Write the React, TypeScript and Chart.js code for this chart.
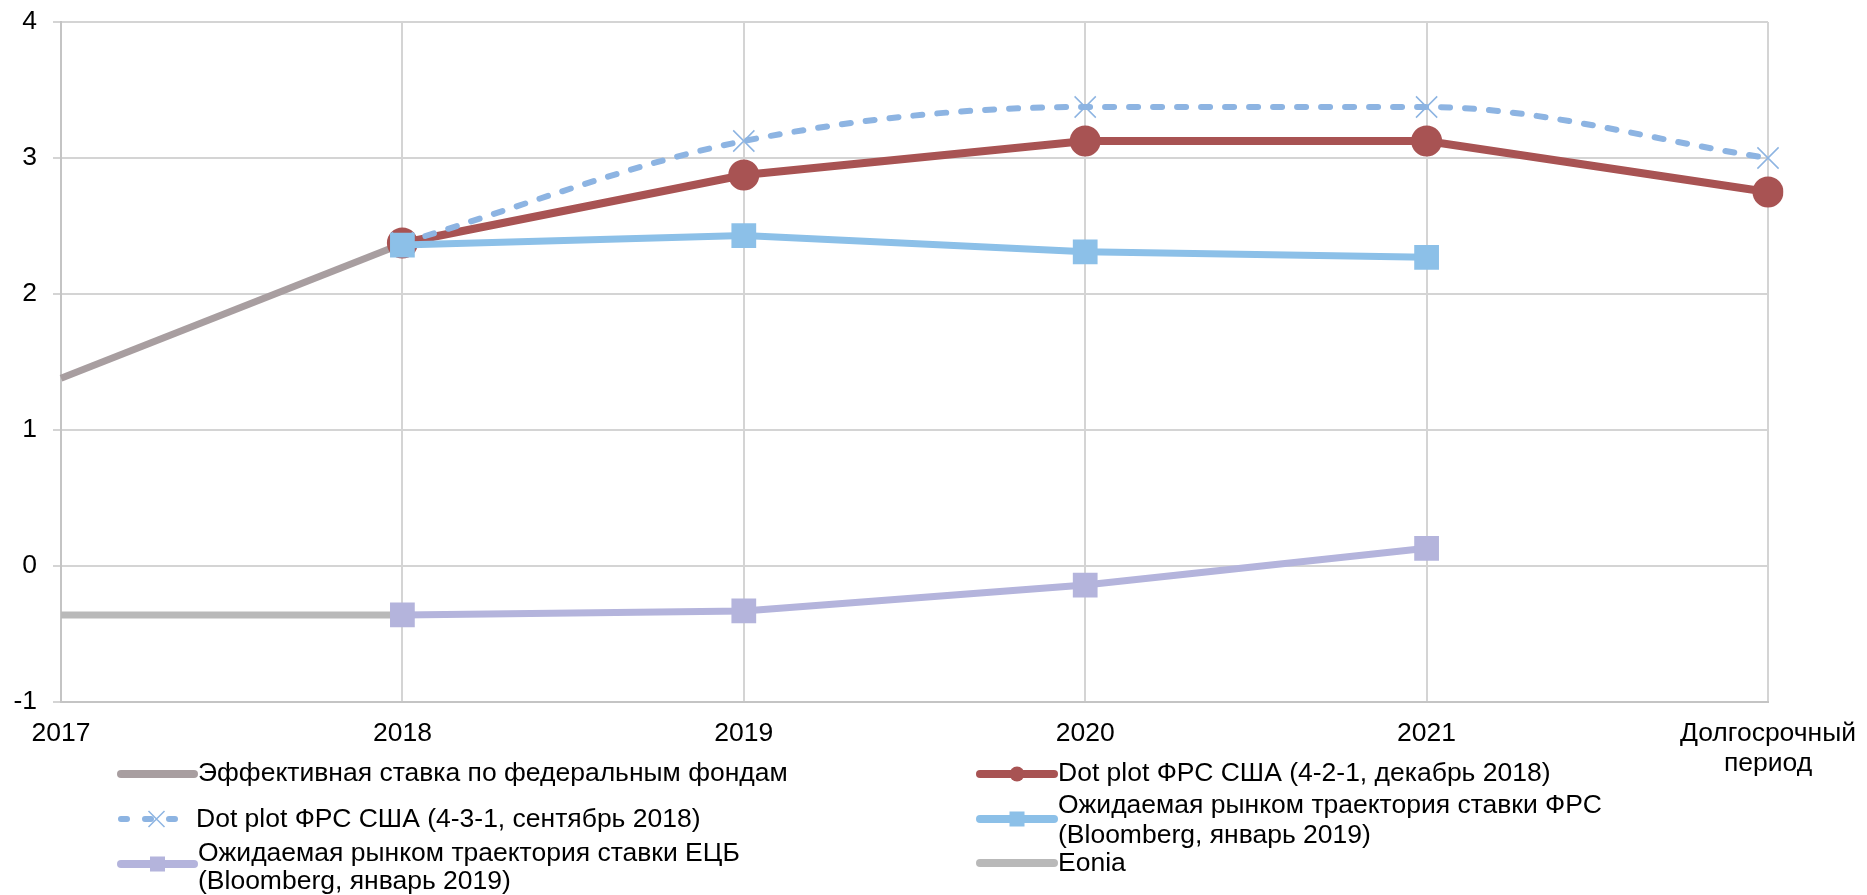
import React, { useEffect, useRef } from "react";
import { Chart, registerables } from "chart.js";

Chart.register(...registerables);

const categories: (string | string[])[] = ["2017", "2018", "2019", "2020", "2021", ["Долгосрочный", "период"]];

const effectiveRate = [1.38, 2.37, null, null, null, null];
const dotPlotDec = [null, 2.375, 2.875, 3.125, 3.125, 2.75];
const dotPlotSep = [null, 2.375, 3.125, 3.375, 3.375, 3.0];
const marketFed = [null, 2.36, 2.43, 2.31, 2.27, null];
const marketEcb = [null, -0.36, -0.33, -0.14, 0.13, null];
const eonia = [-0.36, -0.36, null, null, null, null];

const yTicks = [-1, 0, 1, 2, 3, 4];

const labelEffective = ["Эффективная ставка по федеральным фондам"];
const labelDec = ["Dot plot ФРС США (4-2-1, декабрь 2018)"];
const labelSep = ["Dot plot ФРС США (4-3-1, сентябрь 2018)"];
const labelFed = ["Ожидаемая рынком траектория ставки ФРС", "(Bloomberg, январь 2019)"];
const labelEcb = ["Ожидаемая рынком траектория ставки ЕЦБ", "(Bloomberg, январь 2019)"];
const labelEonia = ["Eonia"];

const FONT = '"Liberation Sans", Arial, sans-serif';
const FS = 26.5;

const C_RED = "#a85353";
const C_DASH = "#8db4e2";
const C_FED = "#8cc0e8";
const C_ECB = "#b4b4dc";
const C_EFF = "#a89ea0";
const C_EONIA = "#b9b9b9";

// legend layout: [datasetIndex, sampleX1, sampleX2, sampleY, textX, firstLineY, lineGap]
const legendLayout: number[][] = [
  [4, 121, 194, 774, 198, 774, 0],
  [2, 121, 192, 819, 196, 820, 0],
  [1, 121, 194, 864, 198, 854, 28],
  [3, 980, 1054, 774, 1058, 774, 0],
  [0, 980, 1054, 819, 1058, 806, 30],
  [5, 980, 1054, 863, 1058, 864, 0],
];

const legendPlugin = {
  id: "customLegend",
  afterDraw(chart: any) {
    const ctx: CanvasRenderingContext2D = chart.ctx;
    ctx.save();
    for (const [di, x1, x2, sy, tx, ty, gap] of legendLayout) {
      const ds: any = chart.data.datasets[di];
      ctx.save();
      ctx.strokeStyle = ds.borderColor;
      ctx.lineCap = "round";
      ctx.lineWidth = ds.legendWidth;
      ctx.setLineDash(ds.legendDash || []);
      ctx.beginPath();
      ctx.moveTo(x1, sy);
      ctx.lineTo(x2, sy);
      ctx.stroke();
      ctx.setLineDash([]);
      const cx = (x1 + x2) / 2;
      if (ds.pointStyle === "circle") {
        ctx.fillStyle = ds.borderColor;
        ctx.beginPath();
        ctx.arc(cx, sy, 7.5, 0, Math.PI * 2);
        ctx.fill();
      } else if (ds.pointStyle === "rect") {
        ctx.fillStyle = ds.borderColor;
        ctx.fillRect(cx - 7.5, sy - 7.5, 15, 15);
      } else if (ds.pointStyle === "crossRot") {
        ctx.strokeStyle = ds.borderColor;
        ctx.lineWidth = 1.5;
        ctx.lineCap = "butt";
        ctx.beginPath();
        ctx.moveTo(cx - 8, sy - 8);
        ctx.lineTo(cx + 8, sy + 8);
        ctx.moveTo(cx + 8, sy - 8);
        ctx.lineTo(cx - 8, sy + 8);
        ctx.stroke();
      }
      ctx.restore();
      ctx.fillStyle = "#000";
      ctx.font = `${FS}px ${FONT}`;
      ctx.textBaseline = "middle";
      ctx.textAlign = "left";
      (ds.legendLines as string[]).forEach((t, i) => {
        ctx.fillText(t, tx, ty + i * gap);
      });
    }
    ctx.restore();
  },
};

export default function App() {
  const ref = useRef<HTMLCanvasElement | null>(null);

  useEffect(() => {
    document.body.style.margin = "0";
    if (!ref.current) return;
    const chart = new Chart(ref.current, {
      type: "line",
      data: {
        labels: categories as any,
        datasets: [
          {
            label: labelFed.join(" "),
            legendLines: labelFed,
            legendWidth: 8,
            data: marketFed,
            borderColor: C_FED,
            backgroundColor: C_FED,
            borderWidth: 7,
            pointStyle: "rect",
            pointRadius: 17.5,
            pointBorderWidth: 0,
            pointBackgroundColor: C_FED,
            tension: 0,
          } as any,
          {
            label: labelEcb.join(" "),
            legendLines: labelEcb,
            legendWidth: 8,
            data: marketEcb,
            borderColor: C_ECB,
            backgroundColor: C_ECB,
            borderWidth: 7,
            pointStyle: "rect",
            pointRadius: 17.5,
            pointBorderWidth: 0,
            pointBackgroundColor: C_ECB,
            tension: 0,
          } as any,
          {
            label: labelSep.join(" "),
            legendLines: labelSep,
            legendWidth: 6,
            legendDash: [6, 18],
            data: dotPlotSep,
            borderColor: C_DASH,
            backgroundColor: C_DASH,
            borderWidth: 6,
            borderDash: [9, 15],
            borderCapStyle: "round",
            pointStyle: "crossRot",
            pointRadius: 15,
            pointBorderWidth: 1.5,
            pointBorderColor: C_DASH,
            cubicInterpolationMode: "monotone",
          } as any,
          {
            label: labelDec.join(" "),
            legendLines: labelDec,
            legendWidth: 8,
            data: dotPlotDec,
            borderColor: C_RED,
            backgroundColor: C_RED,
            borderWidth: 8,
            pointStyle: "circle",
            pointRadius: 15.5,
            pointBorderWidth: 0,
            pointBackgroundColor: C_RED,
            tension: 0,
          } as any,
          {
            label: labelEffective.join(" "),
            legendLines: labelEffective,
            legendWidth: 8,
            data: effectiveRate,
            borderColor: C_EFF,
            backgroundColor: C_EFF,
            borderWidth: 7,
            pointRadius: 0,
            tension: 0,
          } as any,
          {
            label: labelEonia.join(" "),
            legendLines: labelEonia,
            legendWidth: 8,
            data: eonia,
            borderColor: C_EONIA,
            backgroundColor: C_EONIA,
            borderWidth: 7,
            pointRadius: 0,
            tension: 0,
          } as any,
        ],
      },
      options: {
        responsive: false,
        animation: false,
        spanGaps: false,
        layout: { padding: { left: 0, top: 22, right: 99, bottom: 0 } },
        plugins: {
          legend: { display: false },
          tooltip: { enabled: false },
        },
        scales: {
          x: {
            type: "category",
            offset: false,
            grid: { color: "#d4d4d4", lineWidth: 2, drawTicks: false },
            border: { color: "#c4c4c4", width: 2 },
            ticks: {
              color: "#000",
              font: { family: FONT, size: FS, lineHeight: 1.12 },
              padding: 17,
              maxRotation: 0,
              autoSkip: false,
            },
            afterFit: (scale: any) => {
              scale.height = 895 - 702;
              scale.paddingLeft = 0;
              scale.paddingRight = 0;
            },
          },
          y: {
            min: -1,
            max: 4,
            afterBuildTicks: (scale: any) => {
              scale.ticks = yTicks.map((v) => ({ value: v }));
            },
            grid: { color: "#d4d4d4", lineWidth: 2, drawTicks: true, tickLength: 8 },
            border: { color: "#c4c4c4", width: 2 },
            ticks: {
              color: "#000",
              font: { family: FONT, size: FS },
              padding: 16,
            },
            afterFit: (scale: any) => {
              scale.width = 61;
              scale.paddingTop = 0;
              scale.paddingBottom = 0;
            },
          },
        },
      } as any,
      plugins: [legendPlugin],
    });
    return () => chart.destroy();
  }, []);

  return (
    <div style={{ position: "absolute", left: 0, top: 0, width: 1867, height: 895, background: "#fff" }}>
      <canvas ref={ref} width={1867} height={895} />
    </div>
  );
}
